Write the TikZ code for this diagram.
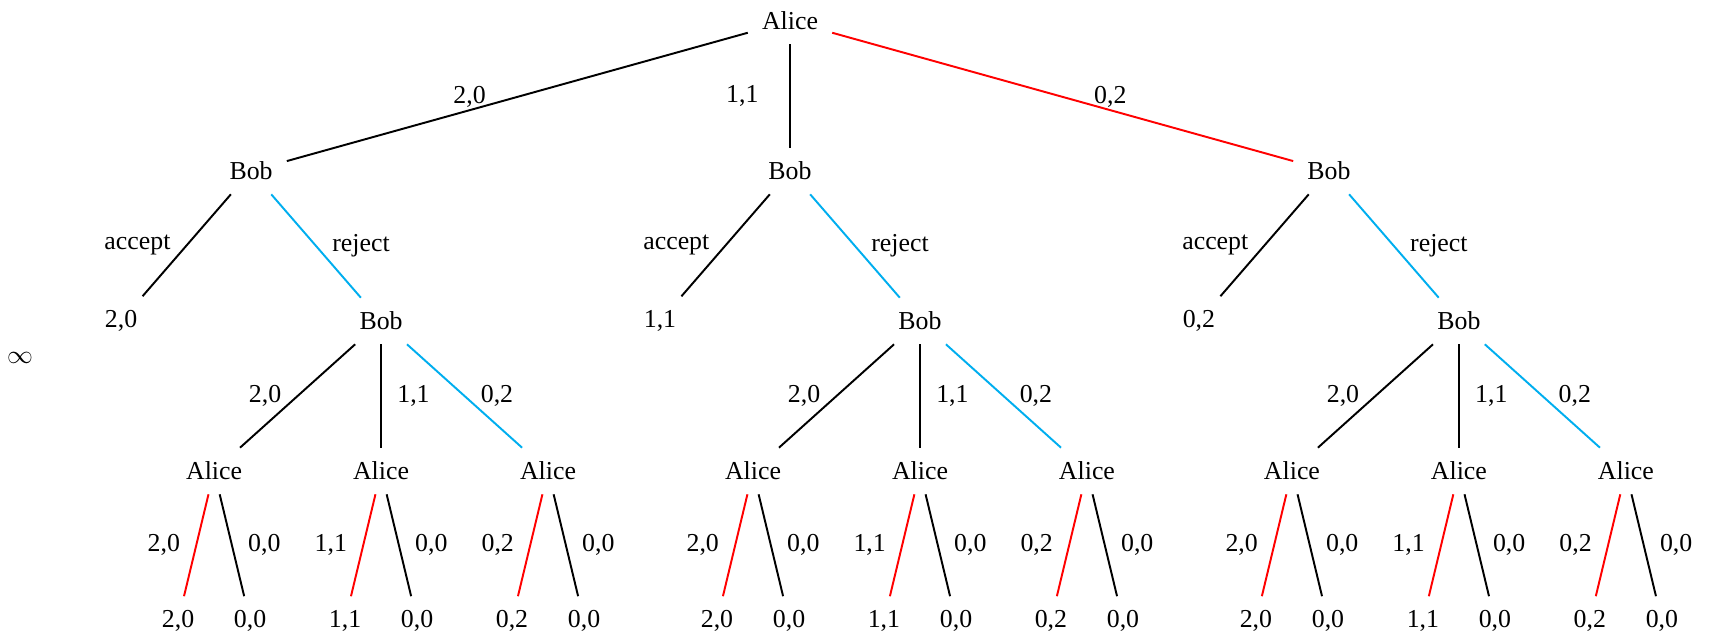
\documentclass[tikz,border=0pt]{standalone}
\usepackage{fontspec}
\setmainfont{Liberation Serif}
\usetikzlibrary{positioning}
\definecolor{rejectblue}{RGB}{0,174,239}

\begin{document}
\begin{tikzpicture}[
    on grid,
    player/.style={inner sep=5.3pt},
    outcome/.style={inner sep=5.3pt},
    move/.style={line width=0.75pt, draw=black},
    redmove/.style={move, draw=red},
    bluemove/.style={move, draw=rejectblue}
]
    \useasboundingbox (-10.745,0.286) rectangle (12.540,-8.392);

    % --- ROOT AND BOB ---
    \node [player] (alice) at (0,0) {Alice};
    \node [player, below left=2.04cm and 7.33cm of alice] (bob20) {Bob};
    \node [player, below=2.04cm of alice] (bob11) {Bob};
    \node [player, below right=2.04cm and 7.33cm of alice] (bob02) {Bob};
    \node (inf) at (-10.473,-4.584) {$\infty$};

    % --- ACCEPT / REJECT ---
    \node [outcome, below left=2.04cm and 1.768cm of bob20] (acc20) {2,0};
    \node [player, below right=2.04cm and 1.768cm of bob20] (rej20) {Bob};
    \node [outcome, below left=2.04cm and 1.768cm of bob11] (acc11) {1,1};
    \node [player, below right=2.04cm and 1.768cm of bob11] (rej11) {Bob};
    \node [outcome, below left=2.04cm and 1.768cm of bob02] (acc02) {0,2};
    \node [player, below right=2.04cm and 1.768cm of bob02] (rej02) {Bob};

    % --- COUNTER OFFERS ---
    \node [player, below left=2.04cm and 2.271cm of rej20] (al20a) {Alice};
    \node [player, below=2.04cm of rej20] (al20b) {Alice};
    \node [player, below right=2.04cm and 2.271cm of rej20] (al20c) {Alice};
    \node [player, below left=2.04cm and 2.271cm of rej11] (al11a) {Alice};
    \node [player, below=2.04cm of rej11] (al11b) {Alice};
    \node [player, below right=2.04cm and 2.271cm of rej11] (al11c) {Alice};
    \node [player, below left=2.04cm and 2.271cm of rej02] (al02a) {Alice};
    \node [player, below=2.04cm of rej02] (al02b) {Alice};
    \node [player, below right=2.04cm and 2.271cm of rej02] (al02c) {Alice};

    % --- PAYOFFS ---
    \node [outcome, below left=2.04cm and 0.49cm of al20a] (pay20a) {2,0};
    \node [outcome, below right=2.04cm and 0.49cm of al20a] (zero20a) {0,0};
    \node [outcome, below left=2.04cm and 0.49cm of al20b] (pay20b) {1,1};
    \node [outcome, below right=2.04cm and 0.49cm of al20b] (zero20b) {0,0};
    \node [outcome, below left=2.04cm and 0.49cm of al20c] (pay20c) {0,2};
    \node [outcome, below right=2.04cm and 0.49cm of al20c] (zero20c) {0,0};
    \node [outcome, below left=2.04cm and 0.49cm of al11a] (pay11a) {2,0};
    \node [outcome, below right=2.04cm and 0.49cm of al11a] (zero11a) {0,0};
    \node [outcome, below left=2.04cm and 0.49cm of al11b] (pay11b) {1,1};
    \node [outcome, below right=2.04cm and 0.49cm of al11b] (zero11b) {0,0};
    \node [outcome, below left=2.04cm and 0.49cm of al11c] (pay11c) {0,2};
    \node [outcome, below right=2.04cm and 0.49cm of al11c] (zero11c) {0,0};
    \node [outcome, below left=2.04cm and 0.49cm of al02a] (pay02a) {2,0};
    \node [outcome, below right=2.04cm and 0.49cm of al02a] (zero02a) {0,0};
    \node [outcome, below left=2.04cm and 0.49cm of al02b] (pay02b) {1,1};
    \node [outcome, below right=2.04cm and 0.49cm of al02b] (zero02b) {0,0};
    \node [outcome, below left=2.04cm and 0.49cm of al02c] (pay02c) {0,2};
    \node [outcome, below right=2.04cm and 0.49cm of al02c] (zero02c) {0,0};

    % --- EDGES ---
    \draw [move] (alice) -- node[left=8.5pt]{2,0} (bob20);
    \draw [move] (alice) -- node[left=8.5pt]{1,1} (bob11);
    \draw [redmove] (alice) -- node[right=8.5pt]{0,2} (bob02);

    \draw [move] (bob20) -- node[left=2.6pt]{accept} (acc20);
    \draw [bluemove] (bob20) -- node[right=2.6pt]{reject} (rej20);
    \draw [move] (bob11) -- node[left=2.6pt]{accept} (acc11);
    \draw [bluemove] (bob11) -- node[right=2.6pt]{reject} (rej11);
    \draw [move] (bob02) -- node[left=2.6pt]{accept} (acc02);
    \draw [bluemove] (bob02) -- node[right=2.6pt]{reject} (rej02);

    \draw [move] (rej20) -- node[left=2.6pt]{2,0} (al20a);
    \draw [move] (rej20) -- node[right=2.6pt]{1,1} (al20b);
    \draw [bluemove] (rej20) -- node[right=2.6pt]{0,2} (al20c);
    \draw [move] (rej11) -- node[left=2.6pt]{2,0} (al11a);
    \draw [move] (rej11) -- node[right=2.6pt]{1,1} (al11b);
    \draw [bluemove] (rej11) -- node[right=2.6pt]{0,2} (al11c);
    \draw [move] (rej02) -- node[left=2.6pt]{2,0} (al02a);
    \draw [move] (rej02) -- node[right=2.6pt]{1,1} (al02b);
    \draw [bluemove] (rej02) -- node[right=2.6pt]{0,2} (al02c);

    \draw [redmove] (al20a) -- node[left=2.6pt]{2,0} (pay20a);
    \draw [move] (al20a) -- node[right=2.6pt]{0,0} (zero20a);
    \draw [redmove] (al20b) -- node[left=2.6pt]{1,1} (pay20b);
    \draw [move] (al20b) -- node[right=2.6pt]{0,0} (zero20b);
    \draw [redmove] (al20c) -- node[left=2.6pt]{0,2} (pay20c);
    \draw [move] (al20c) -- node[right=2.6pt]{0,0} (zero20c);
    \draw [redmove] (al11a) -- node[left=2.6pt]{2,0} (pay11a);
    \draw [move] (al11a) -- node[right=2.6pt]{0,0} (zero11a);
    \draw [redmove] (al11b) -- node[left=2.6pt]{1,1} (pay11b);
    \draw [move] (al11b) -- node[right=2.6pt]{0,0} (zero11b);
    \draw [redmove] (al11c) -- node[left=2.6pt]{0,2} (pay11c);
    \draw [move] (al11c) -- node[right=2.6pt]{0,0} (zero11c);
    \draw [redmove] (al02a) -- node[left=2.6pt]{2,0} (pay02a);
    \draw [move] (al02a) -- node[right=2.6pt]{0,0} (zero02a);
    \draw [redmove] (al02b) -- node[left=2.6pt]{1,1} (pay02b);
    \draw [move] (al02b) -- node[right=2.6pt]{0,0} (zero02b);
    \draw [redmove] (al02c) -- node[left=2.6pt]{0,2} (pay02c);
    \draw [move] (al02c) -- node[right=2.6pt]{0,0} (zero02c);

\end{tikzpicture}
\end{document}
